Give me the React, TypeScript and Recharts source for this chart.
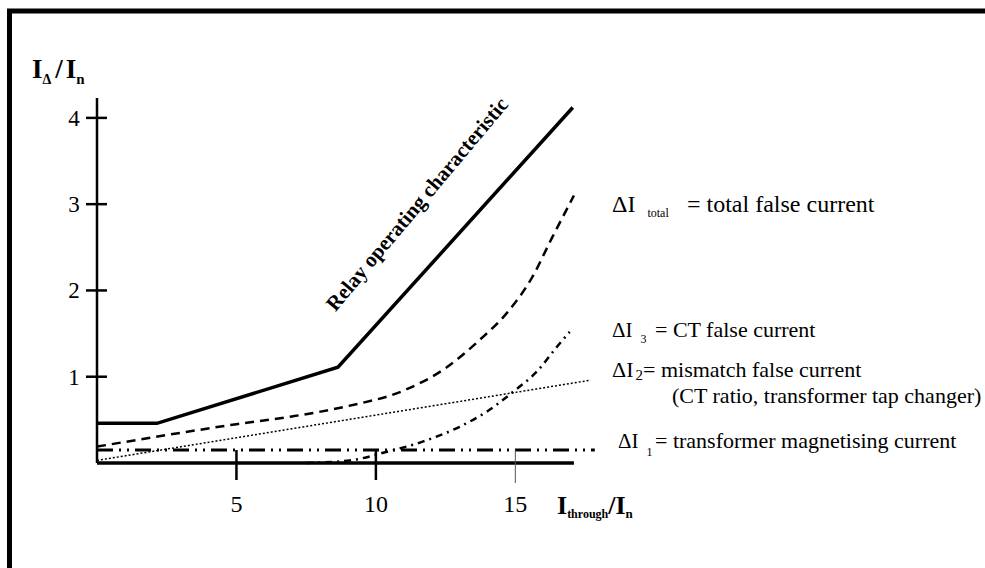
import React from 'react';
import { LineChart, Line, XAxis, YAxis, ReferenceLine } from 'recharts';

// (x = I_through / I_n, y = I_delta / I_n)
const relayCurve = [
  { x: 0, y: 0.46 },
  { x: 2.15, y: 0.46 },
  { x: 8.64, y: 1.11 },
  { x: 17.06, y: 4.12 },
];

const totalFalse = [
  { x: 0, y: 0.19 },
  { x: 3, y: 0.35 },
  { x: 5, y: 0.45 },
  { x: 7, y: 0.54 },
  { x: 9, y: 0.66 },
  { x: 11, y: 0.84 },
  { x: 12.5, y: 1.1 },
  { x: 13.7, y: 1.42 },
  { x: 14.7, y: 1.74 },
  { x: 15.6, y: 2.15 },
  { x: 16.3, y: 2.6 },
  { x: 17.1, y: 3.1 },
];

const ctFalse = [
  { x: 7.5, y: 0 },
  { x: 9.07, y: 0.03 },
  { x: 10.4, y: 0.13 },
  { x: 11.7, y: 0.25 },
  { x: 13.0, y: 0.42 },
  { x: 14.0, y: 0.6 },
  { x: 14.9, y: 0.82 },
  { x: 15.8, y: 1.07 },
  { x: 16.5, y: 1.35 },
  { x: 16.95, y: 1.52 },
];

const mismatch = [
  { x: 0, y: 0.03 },
  { x: 17.7, y: 0.96 },
];

const magnetising = [
  { x: 0, y: 0.15 },
  { x: 17.85, y: 0.15 },
];

const xTicks = [5, 10, 15];
const yTicks = [1, 2, 3, 4];

const serif = '"Liberation Serif", "Times New Roman", serif';
const txt = { fontFamily: serif, fill: '#000' };

const XTick = (props: any) => {
  const { x, y, payload } = props;
  const thin = payload.value === 15;
  return (
    <g>
      <line
        x1={x}
        x2={x}
        y1={y - 13}
        y2={y + (thin ? 20 : 17)}
        stroke={thin ? '#555' : '#000'}
        strokeWidth={thin ? 1 : 2.5}
      />
      <text x={x} y={y + 49} textAnchor="middle" style={txt} fontSize={24}>
        {payload.value}
      </text>
    </g>
  );
};

const YTick = (props: any) => {
  const { x, y, payload } = props;
  return (
    <g>
      <line x1={x - 11} x2={x + 10} y1={y} y2={y} stroke="#000" strokeWidth={2.5} />
      <text x={x - 23} y={y + 8} textAnchor="middle" style={txt} fontSize={23}>
        {payload.value}
      </text>
    </g>
  );
};

export default function App() {
  return (
    <div style={{ position: 'absolute', left: 0, top: 0, width: 985, height: 568, background: '#fff' }}>
      <LineChart width={985} height={568} margin={{ top: 92, right: 386, bottom: 45, left: 37 }}>
        <XAxis
          type="number"
          dataKey="x"
          domain={[0, 18]}
          ticks={xTicks}
          axisLine={false}
          tickLine={false}
          tickSize={0}
          tickMargin={0}
          height={60}
          tick={XTick}
          interval={0}
        />
        <YAxis
          type="number"
          dataKey="y"
          domain={[0, 4.3]}
          ticks={yTicks}
          axisLine={false}
          tickLine={false}
          tickSize={0}
          tickMargin={0}
          width={60}
          tick={YTick}
          interval={0}
        />
        <ReferenceLine
          segment={[{ x: 0, y: 0 }, { x: 0, y: 4.23 }]}
          stroke="#000"
          strokeWidth={2.5}
        />
        <ReferenceLine
          segment={[{ x: 0, y: 0 }, { x: 17.1, y: 0 }]}
          stroke="#000"
          strokeWidth={3.5}
        />
        <Line
          data={magnetising}
          dataKey="y"
          type="linear"
          stroke="#000"
          strokeWidth={3}
          strokeDasharray="16 6 2 6 2 6"
          dot={false}
          isAnimationActive={false}
        />
        <Line
          data={mismatch}
          dataKey="y"
          type="linear"
          stroke="#000"
          strokeWidth={1.5}
          strokeDasharray="2 2"
          dot={false}
          isAnimationActive={false}
        />
        <Line
          data={ctFalse}
          dataKey="y"
          type="monotone"
          stroke="#000"
          strokeWidth={2.5}
          strokeDasharray="7 5 2 5"
          dot={false}
          isAnimationActive={false}
        />
        <Line
          data={totalFalse}
          dataKey="y"
          type="monotone"
          stroke="#000"
          strokeWidth={2.5}
          strokeDasharray="9 6"
          dot={false}
          isAnimationActive={false}
        />
        <Line
          data={relayCurve}
          dataKey="y"
          type="linear"
          stroke="#000"
          strokeWidth={3.5}
          dot={false}
          isAnimationActive={false}
        />
      </LineChart>
      <svg
        width={985}
        height={568}
        style={{ position: 'absolute', left: 0, top: 0, pointerEvents: 'none' }}
      >
        {/* frame */}
        <polyline points="9.5,568 9.5,11 985,11" fill="none" stroke="#000" strokeWidth={5} />

        {/* axis titles */}
        <text x={32} y={78} style={txt} fontSize={27} fontWeight="bold">
          I<tspan fontSize={14} dy={6}>Δ</tspan>
          <tspan dy={-6} dx={4}>/</tspan>
          <tspan dx={3}>I</tspan>
          <tspan fontSize={15} dy={6}>n</tspan>
        </text>
        <text x={557} y={514} style={txt} fontSize={26} fontWeight="bold">
          I<tspan fontSize={12} dy={4}>through</tspan>
          <tspan dy={-4}>/I</tspan>
          <tspan fontSize={13} dy={4}>n</tspan>
        </text>

        <text
          transform="translate(417,204) rotate(-50)"
          textAnchor="middle"
          dominantBaseline="central"
          style={txt}
          fontSize={21}
          fontWeight="bold"
        >
          Relay operating characteristic
        </text>

        {/* curve annotations */}
        <text x={612} y={212} style={txt} fontSize={24}>
          ΔI<tspan fontSize={12} dx={12} dy={5}>total</tspan>
        </text>
        <text x={687} y={212} style={txt} fontSize={24}>= total false current</text>

        <text x={612} y={337} style={txt} fontSize={21}>
          ΔI<tspan fontSize={12} dx={8} dy={6}>3</tspan>
        </text>
        <text x={655} y={337} style={txt} fontSize={22}>= CT false current</text>

        <text x={612} y={377} style={txt} fontSize={22}>
          ΔI<tspan fontSize={15} dx={2} dy={3}>2</tspan>
        </text>
        <text x={643} y={377} style={txt} fontSize={22}>= mismatch false current</text>
        <text x={672} y={403} style={txt} fontSize={22}>(CT ratio, transformer tap changer)</text>

        <text x={618} y={448} style={txt} fontSize={21}>
          ΔI<tspan fontSize={12} dx={8} dy={8}>1</tspan>
        </text>
        <text x={655} y={448} style={txt} fontSize={22}>= transformer magnetising current</text>
      </svg>
    </div>
  );
}
